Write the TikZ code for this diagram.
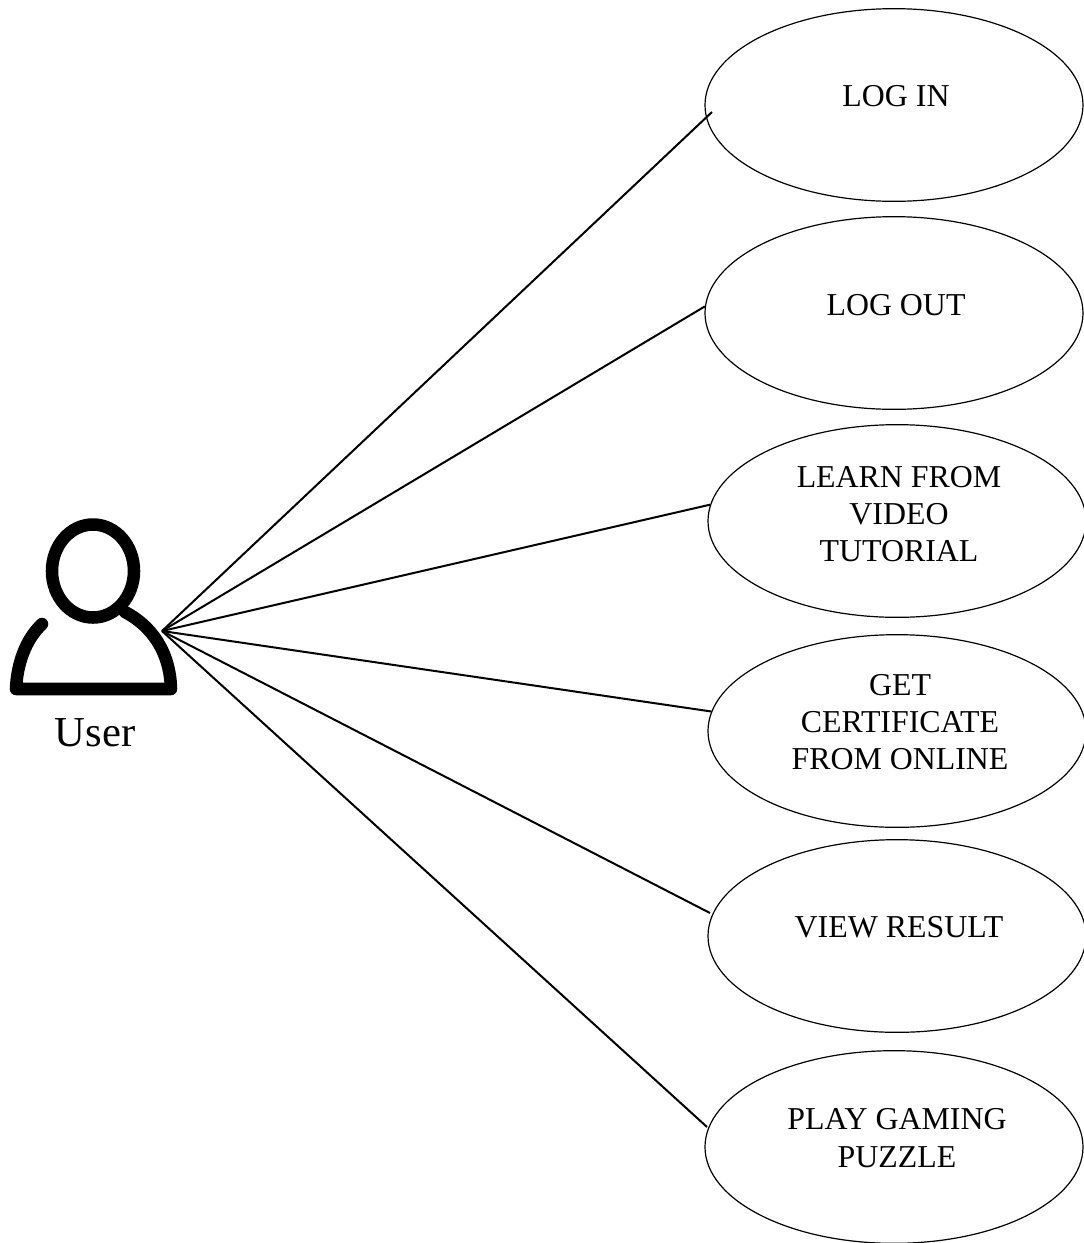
\documentclass[tikz,border=0pt]{standalone}
\usepackage{xcolor}
\usepackage{fontspec}
\setmainfont{Liberation Serif}
\usetikzlibrary{shapes.geometric}
\tikzset{
    usecase/.style={draw,ellipse,inner sep=0pt,line width=0.9pt,minimum width=283.5pt,minimum height=144.5pt},
    uclabel/.style={align=center,inner sep=0pt,font=\fontsize{23.9}{27.9}\selectfont},
    assoc/.style={line width=1.5pt},
    figure/.style={line width=9.4pt,line cap=round,line join=round}
}

\begin{document}
\begin{tikzpicture}[x=0.75pt,y=-0.75pt]
    \useasboundingbox (0,0) rectangle (1083,1243);

    \node[usecase] (login)   at (894,105)  {};
    \node[usecase] (logout)  at (894,313)  {};
    \node[usecase] (learn)   at (897,521)  {};
    \node[usecase] (getcert) at (897,731)  {};
    \node[usecase] (view)    at (897,936)  {};
    \node[usecase] (play)    at (894,1147) {};

    \node[uclabel] (logintext)   at (896,96)   {LOG IN};
    \node[uclabel] (logouttext)  at (896,305)  {LOG OUT};
    \node[uclabel] (learntext)   at (899,514)  {LEARN FROM\\VIDEO\\TUTORIAL};
    \node[uclabel] (getcerttext) at (900,722)  {GET\\CERTIFICATE\\FROM ONLINE};
    \node[uclabel] (viewtext)    at (899,927)  {VIEW RESULT};
    \node[uclabel] (playtext)    at (897,1138) {PLAY GAMING\\PUZZLE};

    % the user
    \draw[figure] (93,571) ellipse (41 and 46.5);
    \draw[figure] (125,612) .. controls (150,625) and (170,650) .. (171,689) -- (16,689)
        .. controls (17,665) and (25,640) .. (42,624);
    \node[inner sep=0pt,font=\fontsize{32}{38}\selectfont] (usertext) at (95,733) {User};

    \coordinate (user) at (162,631);
    \coordinate (loginend) at (712,112);
    \coordinate (viewend) at (710,913);
    \coordinate (playend) at (707,1127);

    \draw[assoc] (user) -- (loginend);
    \draw[assoc] (user) -- (logout.178);
    \draw[assoc] (user) -- (learn.175);
    \draw[assoc] (user) -- (getcert.174);
    \draw[assoc] (user) -- (viewend);
    \draw[assoc] (user) -- (playend);
\end{tikzpicture}
\end{document}
